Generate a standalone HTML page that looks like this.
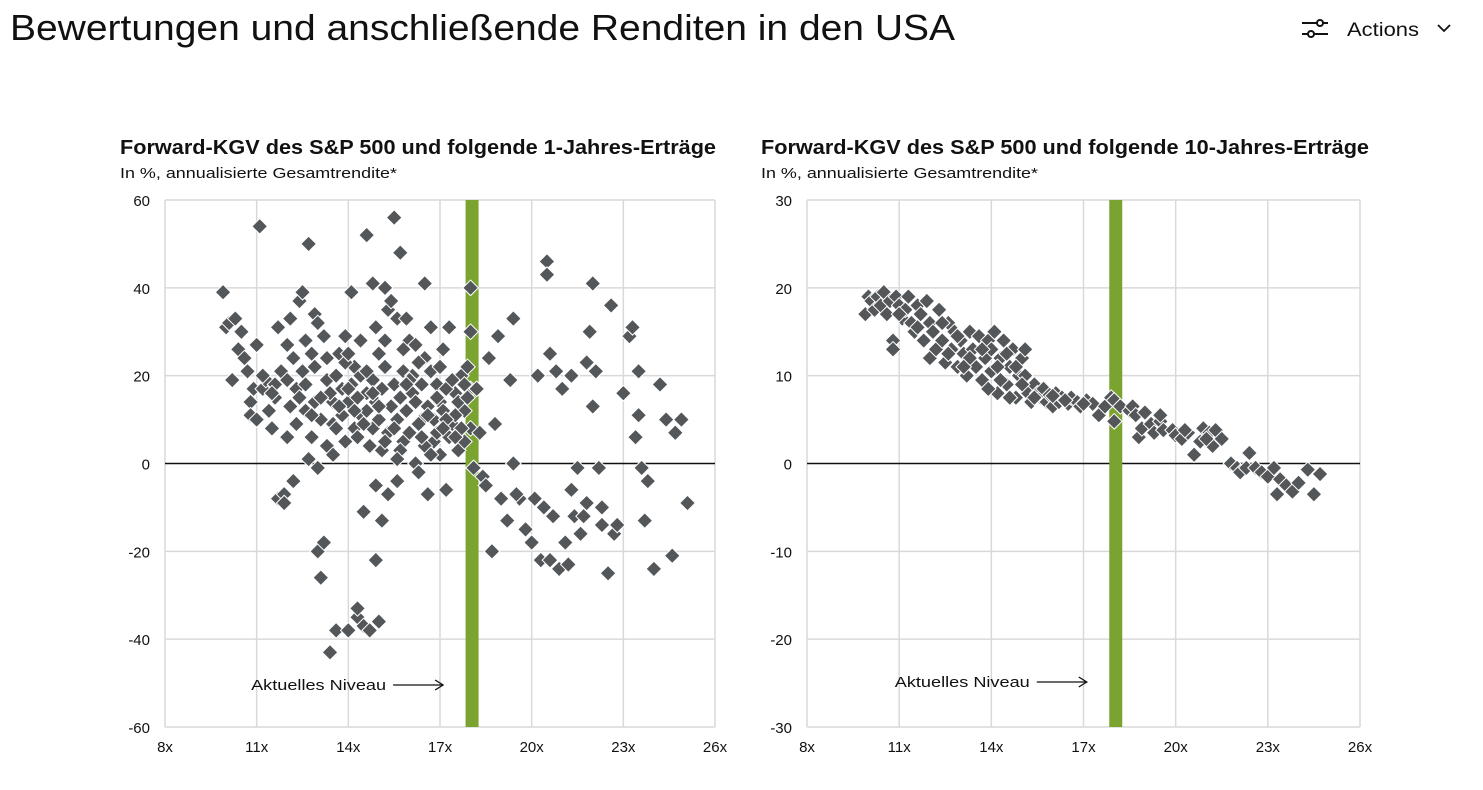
<!DOCTYPE html>
<html><head><meta charset="utf-8">
<style>
body{margin:0;background:#fff;width:1483px;height:790px;overflow:hidden;font-family:"Liberation Sans",Arial,sans-serif;}
#actions{position:absolute;left:1300px;top:16px;font-size:19px;color:#111;display:flex;align-items:center;gap:10px}
svg{position:absolute;left:0;top:0}
</style></head><body>
<svg id="chart" width="1483" height="790">
<text x="10" y="40" font-size="36" textLength="945" lengthAdjust="spacingAndGlyphs" fill="#111">Bewertungen und anschließende Renditen in den USA</text>
<g>
<line x1="1302" y1="23" x2="1328" y2="23" stroke="#111" stroke-width="2"/><line x1="1302" y1="34" x2="1328" y2="34" stroke="#111" stroke-width="2"/><circle cx="1320" cy="23" r="3" fill="#fff" stroke="#111" stroke-width="2"/><circle cx="1311" cy="34" r="3" fill="#fff" stroke="#111" stroke-width="2"/>
<text x="1347" y="36" font-size="19" textLength="72" lengthAdjust="spacingAndGlyphs" fill="#111">Actions</text>
<path d="M1438,25 L1444,31 L1450,25" stroke="#111" stroke-width="1.8" fill="none"/>
</g>
</svg>
<script>
const xTicks=[8,11,14,17,20,23,26];
const xTickLabels=["8x","11x","14x","17x","20x","23x","26x"];
const yTicksL=[60,40,20,0,-20,-40,-60];
const yTicksR=[30,20,10,0,-10,-20,-30];
const currentPE=18.05;
const oneYear=[[9.9,39],[10.0,31],[10.1,32],[10.2,19],[10.3,33],[10.4,26],[10.5,30],[10.6,24],[10.7,21],[10.8,14],[10.8,11],[10.9,17],[11.0,27],[11.0,10],[11.1,54],[11.2,17],[11.3,19],[11.4,12],[11.5,8],[11.6,15],[11.7,31],[11.7,-8],[11.8,21],[11.9,-7],[11.9,-9],[12.0,27],[12.0,6],[12.1,33],[12.2,-4],[12.3,17],[12.3,9],[12.4,37],[12.5,39],[12.5,21],[12.6,12],[12.7,50],[12.7,1],[12.8,25],[12.8,6],[12.9,34],[12.9,14],[13.0,32],[13.0,-1],[13.0,-20],[13.1,-26],[13.2,-18],[13.2,29],[13.3,19],[13.3,4],[13.4,-43],[13.5,9],[13.5,2],[13.6,-38],[13.7,25],[13.8,17],[13.9,5],[14.0,-38],[14.0,14],[14.1,39],[14.2,22],[14.3,-35],[14.3,-33],[14.4,11],[14.4,28],[14.5,-11],[14.5,-37],[14.6,52],[14.6,16],[14.7,-38],[14.8,8],[14.8,41],[14.9,-22],[14.9,-5],[15.0,-36],[15.0,25],[15.1,-13],[15.1,3],[15.2,40],[15.3,35],[15.3,-7],[15.4,37],[15.5,56],[15.6,-4],[15.6,33],[15.7,48],[15.8,21],[15.8,5],[15.9,33],[16.0,28],[16.1,16],[16.2,0],[16.3,-2],[16.4,10],[16.5,41],[16.5,24],[16.6,-7],[16.7,31],[16.8,5],[16.9,18],[17.0,14],[17.0,2],[17.1,26],[17.2,-6],[17.3,31],[17.4,9],[17.5,16],[17.6,3],[17.7,20],[17.8,12],[17.9,22],[18.0,40],[18.0,30],[18.0,17],[18.0,8],[18.1,-1],[18.2,17],[18.3,7],[18.4,-3],[18.5,-5],[18.6,24],[18.7,-20],[18.8,9],[18.9,29],[19.0,-8],[19.2,-13],[19.3,19],[19.4,0],[19.4,33],[19.6,-8],[19.8,-15],[20.0,-18],[20.1,-8],[20.2,20],[20.3,-22],[20.4,-10],[20.5,46],[20.5,43],[20.6,25],[20.7,-12],[20.8,21],[20.9,-24],[21.0,17],[21.1,-18],[21.2,-23],[21.3,20],[21.4,-12],[21.5,-1],[21.6,-16],[21.7,-12],[21.8,23],[21.9,30],[22.0,13],[22.0,41],[22.1,21],[22.2,-1],[22.3,-10],[22.5,-25],[22.6,36],[22.7,-16],[22.8,-14],[23.0,16],[23.2,29],[23.3,31],[23.4,6],[23.5,21],[23.6,-1],[23.7,-13],[23.8,-4],[24.0,-24],[24.2,18],[24.4,10],[24.6,-21],[24.7,7],[24.9,10],[25.1,-9],[23.5,11],[21.3,-6],[22.3,-14],[21.8,-9],[19.5,-7],[20.6,-22],
[11.2,20],[11.6,18],[12.1,13],[12.4,15],[12.6,18],[12.9,22],[13.1,10],[13.3,24],[13.5,14],[13.6,20],[13.8,11],[13.9,23],[14.1,18],[14.2,8],[14.3,15],[14.4,20],[14.6,12],[14.7,4],[14.8,19],[14.9,14],[15.0,10],[15.1,17],[15.2,22],[15.3,7],[15.4,13],[15.5,18],[15.6,10],[15.7,15],[15.8,26],[15.9,12],[16.0,7],[16.1,20],[16.2,14],[16.3,9],[16.4,18],[16.5,4],[16.6,13],[16.7,21],[16.8,10],[16.9,7],[17.0,22],[17.1,12],[17.2,17],[17.3,6],[17.4,19],[17.5,11],[17.6,14],[17.7,8],[17.8,5],[17.9,15],[13.4,16],[13.7,13],[14.0,17],[14.2,12],[14.5,9],[14.8,16],[15.0,13],[15.2,5],[15.5,8],[15.7,3],[16.0,19],[16.3,23],[16.6,11],[16.9,15],[17.2,10],[17.5,6],[14.0,25],[14.6,21],[15.2,28],[16.2,27],[13.6,8],[12.8,11],[12.2,24],[12.6,28],[13.9,29],[14.9,31],[15.9,18],[16.4,6],[17.1,8],[17.8,18],[14.3,6],[15.6,1],[16.7,2],[13.1,15],[12.0,19],[11.5,16]];
const tenYear=[[9.9,17],[10.0,19],[10.1,18.5],[10.2,17.5],[10.3,19],[10.4,18],[10.5,19.5],[10.6,17],[10.7,18.5],[10.8,14],[10.8,13],[10.9,19],[11.0,18],[11.1,16.5],[11.2,17.5],[11.3,19],[11.4,16],[11.5,15],[11.6,18],[11.7,17],[11.8,14],[11.9,18.5],[12.0,16],[12.0,12],[12.1,15],[12.2,13],[12.3,17.5],[12.4,14],[12.5,11.5],[12.6,16],[12.7,13],[12.8,15],[12.9,11],[13.0,14],[13.1,12.5],[13.2,10],[13.3,15],[13.4,13],[13.5,11],[13.6,14.5],[13.7,9.5],[13.8,12],[13.9,14],[14.0,10.5],[14.0,13],[14.1,15],[14.2,8],[14.3,12],[14.4,14],[14.5,9],[14.6,11],[14.7,13],[14.8,7.5],[14.9,10],[15.0,12],[15.1,13],[15.2,8],[15.3,7],[15.4,9],[15.5,8],[15.6,7.5],[15.7,8.5],[15.8,7],[15.9,7.8],[16.0,6.5],[16.1,8],[16.2,7],[16.3,7.5],[16.5,6.8],[16.6,7.5],[16.8,7],[16.9,6.5],[17.1,7.2],[17.3,6.8],[17.5,5.5],[17.7,6.5],[17.9,7.5],[18.0,7.2],[18.0,4.8],[18.2,6.5],[18.5,6],[18.6,6.5],[18.7,5.5],[18.8,3],[18.9,4],[19.0,5.8],[19.2,4.5],[19.3,3.5],[19.5,4.8],[19.6,3.8],[19.9,3.8],[20.0,3.2],[20.2,2.8],[20.4,3.5],[20.6,1],[20.8,2.5],[20.9,4],[21.1,3.5],[21.2,2],[21.3,3.8],[21.5,2.8],[21.8,0],[22.0,-0.5],[22.1,-1],[22.3,-0.5],[22.4,1.2],[22.6,-0.5],[22.8,-1],[23.0,-1.5],[23.2,-0.5],[23.3,-3.5],[23.4,-1.8],[23.6,-2.5],[23.8,-3.2],[24.0,-2.2],[24.3,-0.7],[24.5,-3.5],[24.7,-1.2],[11.0,17],[11.6,15.5],[12.4,16],[12.9,14.5],[13.3,12],[13.7,13],[14.2,11],[14.5,12.5],[14.8,11],[15.1,10],[13.1,11],[12.6,12.5],[13.9,8.5],[14.3,9.5],[14.6,7.5],[15.0,9],[15.4,7.5],[16.0,7.7],[16.4,7.2],[17.0,6.8],[19.5,5.5],[20.3,3.8],[21.0,2.8]];

const NS="http://www.w3.org/2000/svg";
const svg=document.getElementById('chart');
function mk(tag,attrs,parent){const e=document.createElementNS(NS,tag);for(const k in attrs)e.setAttribute(k,attrs[k]);(parent||svg).appendChild(e);return e;}
function drawChart(cfg){
  const g=mk('g',{});
  
  
  const sx=v=>cfg.x0+(v-8)/18*(cfg.x1-cfg.x0);
  const sy=v=>cfg.y0+(cfg.yMax-v)/(2*cfg.yMax)*(cfg.y1-cfg.y0);
  const t=mk('text',{x:cfg.tx,y:154,'font-size':20,'font-weight':'bold',fill:'#111',textLength:cfg.titleW,lengthAdjust:'spacingAndGlyphs'},g);t.textContent=cfg.title;
  
  const s=mk('text',{x:cfg.tx,y:178,'font-size':15,fill:'#111',textLength:277,lengthAdjust:'spacingAndGlyphs'},g);s.textContent='In %, annualisierte Gesamtrendite*';
  
  xTicks.forEach((v,i)=>{
    const l=mk('line',{x1:sx(v),x2:sx(v),y1:cfg.y0,y2:cfg.y1,stroke:'#d9d9d9','stroke-width':1.5},g);
    
    const tx=mk('text',{x:sx(v),y:cfg.y1+25,'font-size':15,'text-anchor':'middle',fill:'#111'},g);tx.textContent=xTickLabels[i];
    
  });
  cfg.yTicks.forEach(v=>{
    if(v!==0){const l=mk('line',{x1:cfg.x0,x2:cfg.x1,y1:sy(v),y2:sy(v),stroke:'#d9d9d9','stroke-width':1.5},g);
    }
    const ty=mk('text',{x:cfg.x0-15,y:sy(v)+6,'font-size':15,'text-anchor':'end',fill:'#111'},g);ty.textContent=v;
    
  });
  const z=mk('line',{x1:cfg.x0,x2:cfg.x1,y1:sy(0),y2:sy(0),stroke:'#111','stroke-width':1.5},g);
  
  const bar=mk('rect',{x:sx(currentPE)-6.5,y:cfg.y0,width:13,height:cfg.y1-cfg.y0,fill:'#7aa32f'},g);
  
  cfg.data.forEach(d=>{
    const p=mk('rect',{x:-5.5,y:-5.5,width:11,height:11,fill:'#54575a',stroke:'#fff','stroke-width':1,transform:`translate(${sx(d[0])},${sy(d[1])}) rotate(45)`},g);
    
  });
  const ax=sx(currentPE)-29, ay=cfg.annY-5;
  const an=mk('text',{x:ax-57-135,y:cfg.annY,'font-size':15,fill:'#111',textLength:135,lengthAdjust:'spacingAndGlyphs'},g);an.textContent='Aktuelles Niveau';
  
  const ar=mk('path',{d:`M${ax-50},${ay} L${ax},${ay} M${ax-8},${ay-5} L${ax},${ay} L${ax-8},${ay+5}`,stroke:'#111','stroke-width':1.3,fill:'none'},g);
  
}
drawChart({name:'chart-1-year',title:'Forward-KGV des S&P 500 und folgende 1-Jahres-Erträge',titleW:596,tx:120,x0:165,x1:715,y0:200,y1:727,yMax:60,yTicks:yTicksL,data:oneYear,annY:690});
drawChart({name:'chart-10-year',title:'Forward-KGV des S&P 500 und folgende 10-Jahres-Erträge',titleW:608,tx:761,x0:807,x1:1360,y0:200,y1:727,yMax:30,yTicks:yTicksR,data:tenYear,annY:687});
</script>
</body></html>
